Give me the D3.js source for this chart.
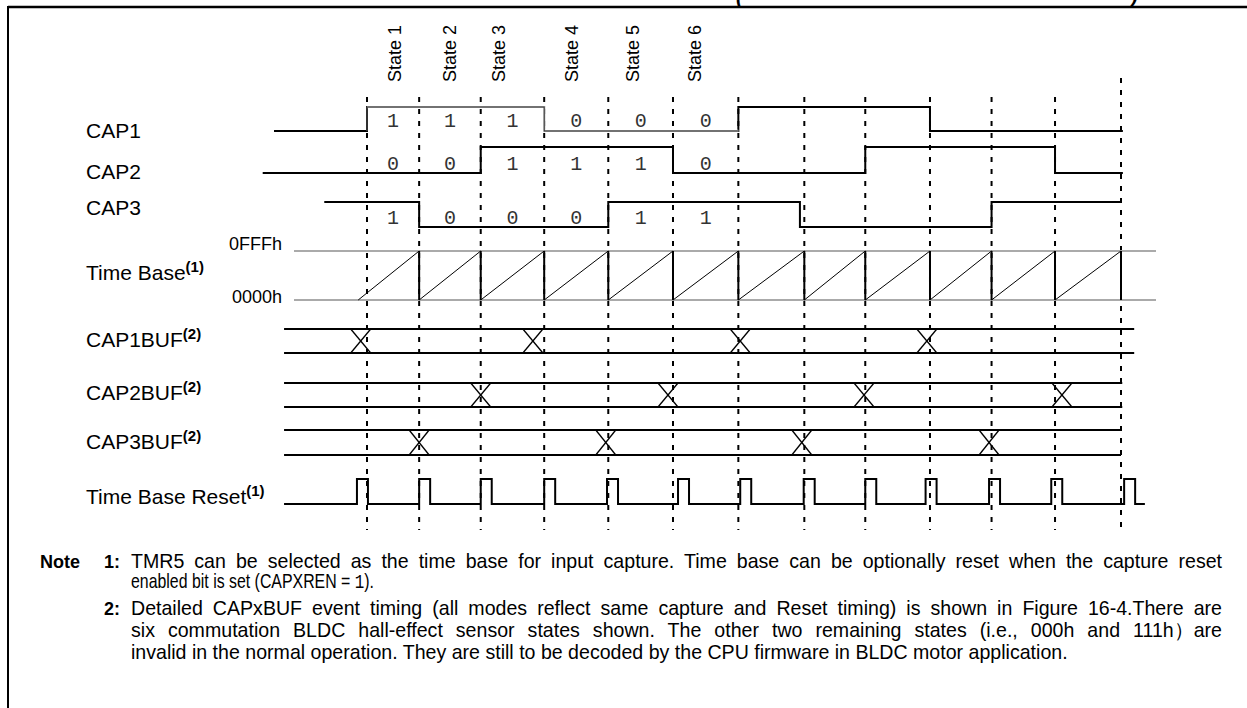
<!DOCTYPE html>
<html>
<head>
<meta charset="utf-8">
<script src="https://d3js.org/d3.v7.min.js"></script>
<style>
  body { margin: 0; background: #fff; }
  text { font-family: "Liberation Sans", Arial, sans-serif; fill: #000; }
  .mono { font-family: "Liberation Mono", "Courier New", monospace; fill: #333; }
</style>
</head>
<body>
<svg id="chart" width="1247" height="708"></svg>
<script>
// ---- data (time axis in "event" units, 0 = first capture event) ----
var eventT = [0, 0.83, 1.81, 2.82, 3.84, 4.87, 5.91, 6.96, 7.93, 8.96, 9.94, 10.95, 12];
var stateNames = ["State 1", "State 2", "State 3", "State 4", "State 5", "State 6"];
var stateLabelT = [0.45, 1.32, 2.1, 3.26, 4.23, 5.22];

var cap1Bits = [1, 1, 1, 0, 0, 0];
var cap2Bits = [0, 0, 1, 1, 1, 0];
var cap3Bits = [1, 0, 0, 0, 1, 1];

var cap1Edges = [-1.48, 0, 2.82, 5.91, 8.96, 12.03];
var cap1Levels = [0, 1, 0, 1, 0];
var cap2Edges = [-1.66, 1.81, 4.87, 7.93, 10.95, 12.03];
var cap2Levels = [0, 1, 0, 1, 0];
var cap3Edges = [-0.68, 0.83, 3.84, 6.89, 9.94, 12.0];
var cap3Levels = [1, 0, 1, 0, 1];

var rampT = [-0.14, 0.83, 1.81, 2.82, 3.84, 4.87, 5.91, 6.96, 7.93, 8.96, 9.94, 10.95, 12];
var timeBaseTicks = [0x0000, 0x0FFF];
var timeBaseTickLabels = ["0000h", "0FFFh"];

var cap1BufX = [-0.1, 2.64, 5.94, 8.91];
var cap2BufX = [1.81, 4.79, 7.91, 11.06];
var cap3BufX = [0.83, 3.80, 6.92, 9.90];
var bufEnd = [12.21, 12.02, 12.0];

var resetPulseT = [-0.16, 0.83, 1.81, 2.82, 3.82, 4.95, 5.94, 6.95, 7.93, 8.89, 9.9, 10.89, 12.05];

var noteLines = [
  ["Note", "1:", "TMR5 can be selected as the time base for input capture. Time base can be optionally reset when the capture reset"],
  ["", "", "enabled bit is set (CAPXREN = <1>)."],
  ["", "2:", "Detailed CAPxBUF event timing (all modes reflect same capture and Reset timing) is shown in Figure 16-4.There are"],
  ["", "", "six commutation BLDC hall-effect sensor states shown. The other two remaining states (i.e., 000h and 111h\uFF09are"],
  ["", "", "invalid in the normal operation. They are still to be decoded by the CPU firmware in BLDC motor application."]
];
var noteJustified = [true, false, true, true, false];

// ---- layout ----
var svg = d3.select("#chart");
var x = d3.scaleLinear().domain([0, 12]).range([367, 1121]);

var rows = {
  cap1: {hi: 107, lo: 131, label: 138},
  cap2: {hi: 147, lo: 173, label: 179},
  cap3: {hi: 202, lo: 227, label: 215},
  tb:   {label: 280},
  buf1: {top: 329, bot: 353, label: 347},
  buf2: {top: 383, bot: 407, label: 400},
  buf3: {top: 430, bot: 455, label: 449},
  rst:  {top: 479, base: 504, label: 504}
};
var yTB = d3.scaleLinear().domain([0, 0x0FFF]).range([300, 251]);

// frame
svg.append("line").attr("x1", 8).attr("x2", 1247).attr("y1", 7).attr("y2", 7)
  .attr("stroke", "#000").attr("stroke-width", 2.5);
svg.append("line").attr("x1", 8).attr("x2", 8).attr("y1", 6).attr("y2", 708)
  .attr("stroke", "#000").attr("stroke-width", 2);
// cut-off title fragments
svg.append("text").attr("x", 736).attr("y", 3).attr("font-size", 20)
  .attr("font-weight", "bold").attr("font-style", "italic").text("(");
svg.append("text").attr("x", 1131).attr("y", 3).attr("font-size", 20)
  .attr("font-weight", "bold").attr("font-style", "italic").text(")");

// dashed event lines
svg.append("g").selectAll("line").data(eventT).enter().append("line")
  .attr("x1", d => x(d)).attr("x2", d => x(d))
  .attr("y1", (d, i) => i === eventT.length - 1 ? 78 : 97).attr("y2", 530)
  .attr("stroke", "#000").attr("stroke-width", 2).attr("stroke-dasharray", "5,7");

// row labels
function label(txt, sup, y) {
  var t = svg.append("text").attr("x", 86).attr("y", y).attr("font-size", 21).text(txt);
  if (sup) t.append("tspan").attr("dy", -8).attr("font-size", 15).attr("font-weight", "bold").text(sup);
}
label("CAP1", null, rows.cap1.label);
label("CAP2", null, rows.cap2.label);
label("CAP3", null, rows.cap3.label);
label("Time Base", "(1)", rows.tb.label);
label("CAP1BUF", "(2)", rows.buf1.label);
label("CAP2BUF", "(2)", rows.buf2.label);
label("CAP3BUF", "(2)", rows.buf3.label);
label("Time Base Reset", "(1)", rows.rst.label);

// state labels (rotated)
svg.append("g").selectAll("text").data(stateNames).enter().append("text")
  .attr("transform", (d, i) => "translate(" + (x(stateLabelT[i]) + 6) + ",82) rotate(-90)")
  .attr("font-size", 18).text(d => d);

// digital signals
function stepPath(edges, levels, row) {
  var p = d3.path();
  levels.forEach(function(l, i) {
    var y = l ? row.hi : row.lo;
    if (i === 0) p.moveTo(x(edges[0]), y); else p.lineTo(x(edges[i]), y);
    p.lineTo(x(edges[i + 1]), y);
  });
  return p.toString();
}
[[cap1Edges, cap1Levels, rows.cap1], [cap2Edges, cap2Levels, rows.cap2], [cap3Edges, cap3Levels, rows.cap3]]
  .forEach(function(s) {
    svg.append("path").attr("d", stepPath(s[0], s[1], s[2]))
      .attr("fill", "none").attr("stroke", "#000").attr("stroke-width", 2);
  });
// CAP1 during states 1-6 is drawn lighter in the original
svg.append("path")
  .attr("d", "M" + x(cap1Edges[1]) + "," + rows.cap1.hi + "H" + x(cap1Edges[2]) + "V" + rows.cap1.lo + "H" + x(cap1Edges[3]))
  .attr("fill", "none").attr("stroke", "#fff").attr("stroke-width", 2.6);
svg.append("path")
  .attr("d", "M" + x(cap1Edges[1]) + "," + rows.cap1.lo + "V" + rows.cap1.hi + "H" + x(cap1Edges[2]) + "V" + rows.cap1.lo + "H" + x(cap1Edges[3]))
  .attr("fill", "none").attr("stroke", "#444").attr("stroke-width", 1.4);

// bit values
function bits(vals, y) {
  svg.append("g").selectAll("text").data(vals).enter().append("text")
    .attr("class", "mono").attr("x", (d, i) => (x(eventT[i]) + x(eventT[i + 1])) / 2)
    .attr("y", y).attr("text-anchor", "middle").attr("font-size", 20).text(d => d);
}
bits(cap1Bits, 127);
bits(cap2Bits, 170);
bits(cap3Bits, 224);

// time base
svg.append("g").selectAll("line").data(timeBaseTicks).enter().append("line")
  .attr("x1", 294).attr("x2", 1156).attr("y1", d => yTB(d)).attr("y2", d => yTB(d))
  .attr("stroke", "#aaa").attr("stroke-width", 2);
svg.append("g").selectAll("text").data(timeBaseTicks).enter().append("text")
  .attr("x", 282).attr("y", d => d ? yTB(d) - 1 : yTB(d) + 3).attr("text-anchor", "end")
  .attr("font-size", 18).text((d, i) => timeBaseTickLabels[i]);
var ramps = svg.append("g");
rampT.forEach(function(t, i) {
  if (i === rampT.length - 1) return;
  ramps.append("line").attr("x1", x(t)).attr("y1", yTB(0)).attr("x2", x(rampT[i + 1])).attr("y2", yTB(0x0FFF))
    .attr("stroke", "#000").attr("stroke-width", 1);
  ramps.append("line").attr("x1", x(rampT[i + 1])).attr("x2", x(rampT[i + 1]))
    .attr("y1", yTB(0x0FFF)).attr("y2", yTB(0)).attr("stroke", "#000").attr("stroke-width", 2);
});

// capture buffers
function buf(cross, row, end) {
  var g = svg.append("g").attr("stroke", "#000");
  [row.top, row.bot].forEach(function(y) {
    g.append("line").attr("x1", x(-1.32)).attr("x2", x(end)).attr("y1", y).attr("y2", y).attr("stroke-width", 2);
  });
  cross.forEach(function(c) {
    g.append("line").attr("x1", x(c) - 10).attr("x2", x(c) + 10).attr("y1", row.top).attr("y2", row.bot).attr("stroke-width", 1.3);
    g.append("line").attr("x1", x(c) - 10).attr("x2", x(c) + 10).attr("y1", row.bot).attr("y2", row.top).attr("stroke-width", 1.3);
  });
}
buf(cap1BufX, rows.buf1, bufEnd[0]);
buf(cap2BufX, rows.buf2, bufEnd[1]);
buf(cap3BufX, rows.buf3, bufEnd[2]);

// time base reset pulses
var pw = 11;
var rp = d3.path();
rp.moveTo(x(-1.32), rows.rst.base);
resetPulseT.forEach(function(t) {
  rp.lineTo(x(t), rows.rst.base); rp.lineTo(x(t), rows.rst.top);
  rp.lineTo(x(t) + pw, rows.rst.top); rp.lineTo(x(t) + pw, rows.rst.base);
});
rp.lineTo(x(12.38), rows.rst.base);
svg.append("path").attr("d", rp.toString()).attr("fill", "none").attr("stroke", "#000").attr("stroke-width", 2);

// notes
var noteY = [568, 588, 615, 637, 659];
var noteX = 131, noteRight = 1222, lastLineEnd = 1068, line2End = 374;
var noteTexts = [];
noteLines.forEach(function(l, i) {
  if (l[0]) svg.append("text").attr("x", 40).attr("y", noteY[i]).attr("font-size", 18).attr("font-weight", "bold").text(l[0]);
  if (l[1]) svg.append("text").attr("x", 120).attr("y", noteY[i]).attr("text-anchor", "end")
    .attr("font-size", 18).attr("font-weight", "bold").text(l[1]);
  var t = svg.append("text").attr("x", 0).attr("y", 0).attr("font-size", 18)
    .attr("transform", "translate(" + noteX + "," + noteY[i] + ")");
  l[2].split(/<(1)>/).forEach(function(p, k) {
    var ts = t.append("tspan").text(p);
    if (k % 2 === 1) ts.attr("class", "mono").style("fill", "#000");
  });
  noteTexts.push(t);
});
// size the note font so the last (unjustified) line matches, then justify full lines
var w5 = noteTexts[4].node().getComputedTextLength();
var fs = 18 * (lastLineEnd - noteX) / w5;
noteTexts.forEach(function(t, i) {
  t.attr("font-size", fs);
  if (noteJustified[i]) {
    var w = t.node().getComputedTextLength();
    var spaces = noteLines[i][2].split(" ").length - 1;
    t.attr("word-spacing", ((noteRight - noteX) - w) / spaces);
  }
});
// the short line is set in a narrower face in the original: squeeze it horizontally
var w2 = noteTexts[1].node().getComputedTextLength();
noteTexts[1].attr("transform", "translate(" + noteX + "," + noteY[1] + ") scale(" + ((line2End - noteX) / w2) + ",1)");
</script>
</body>
</html>
